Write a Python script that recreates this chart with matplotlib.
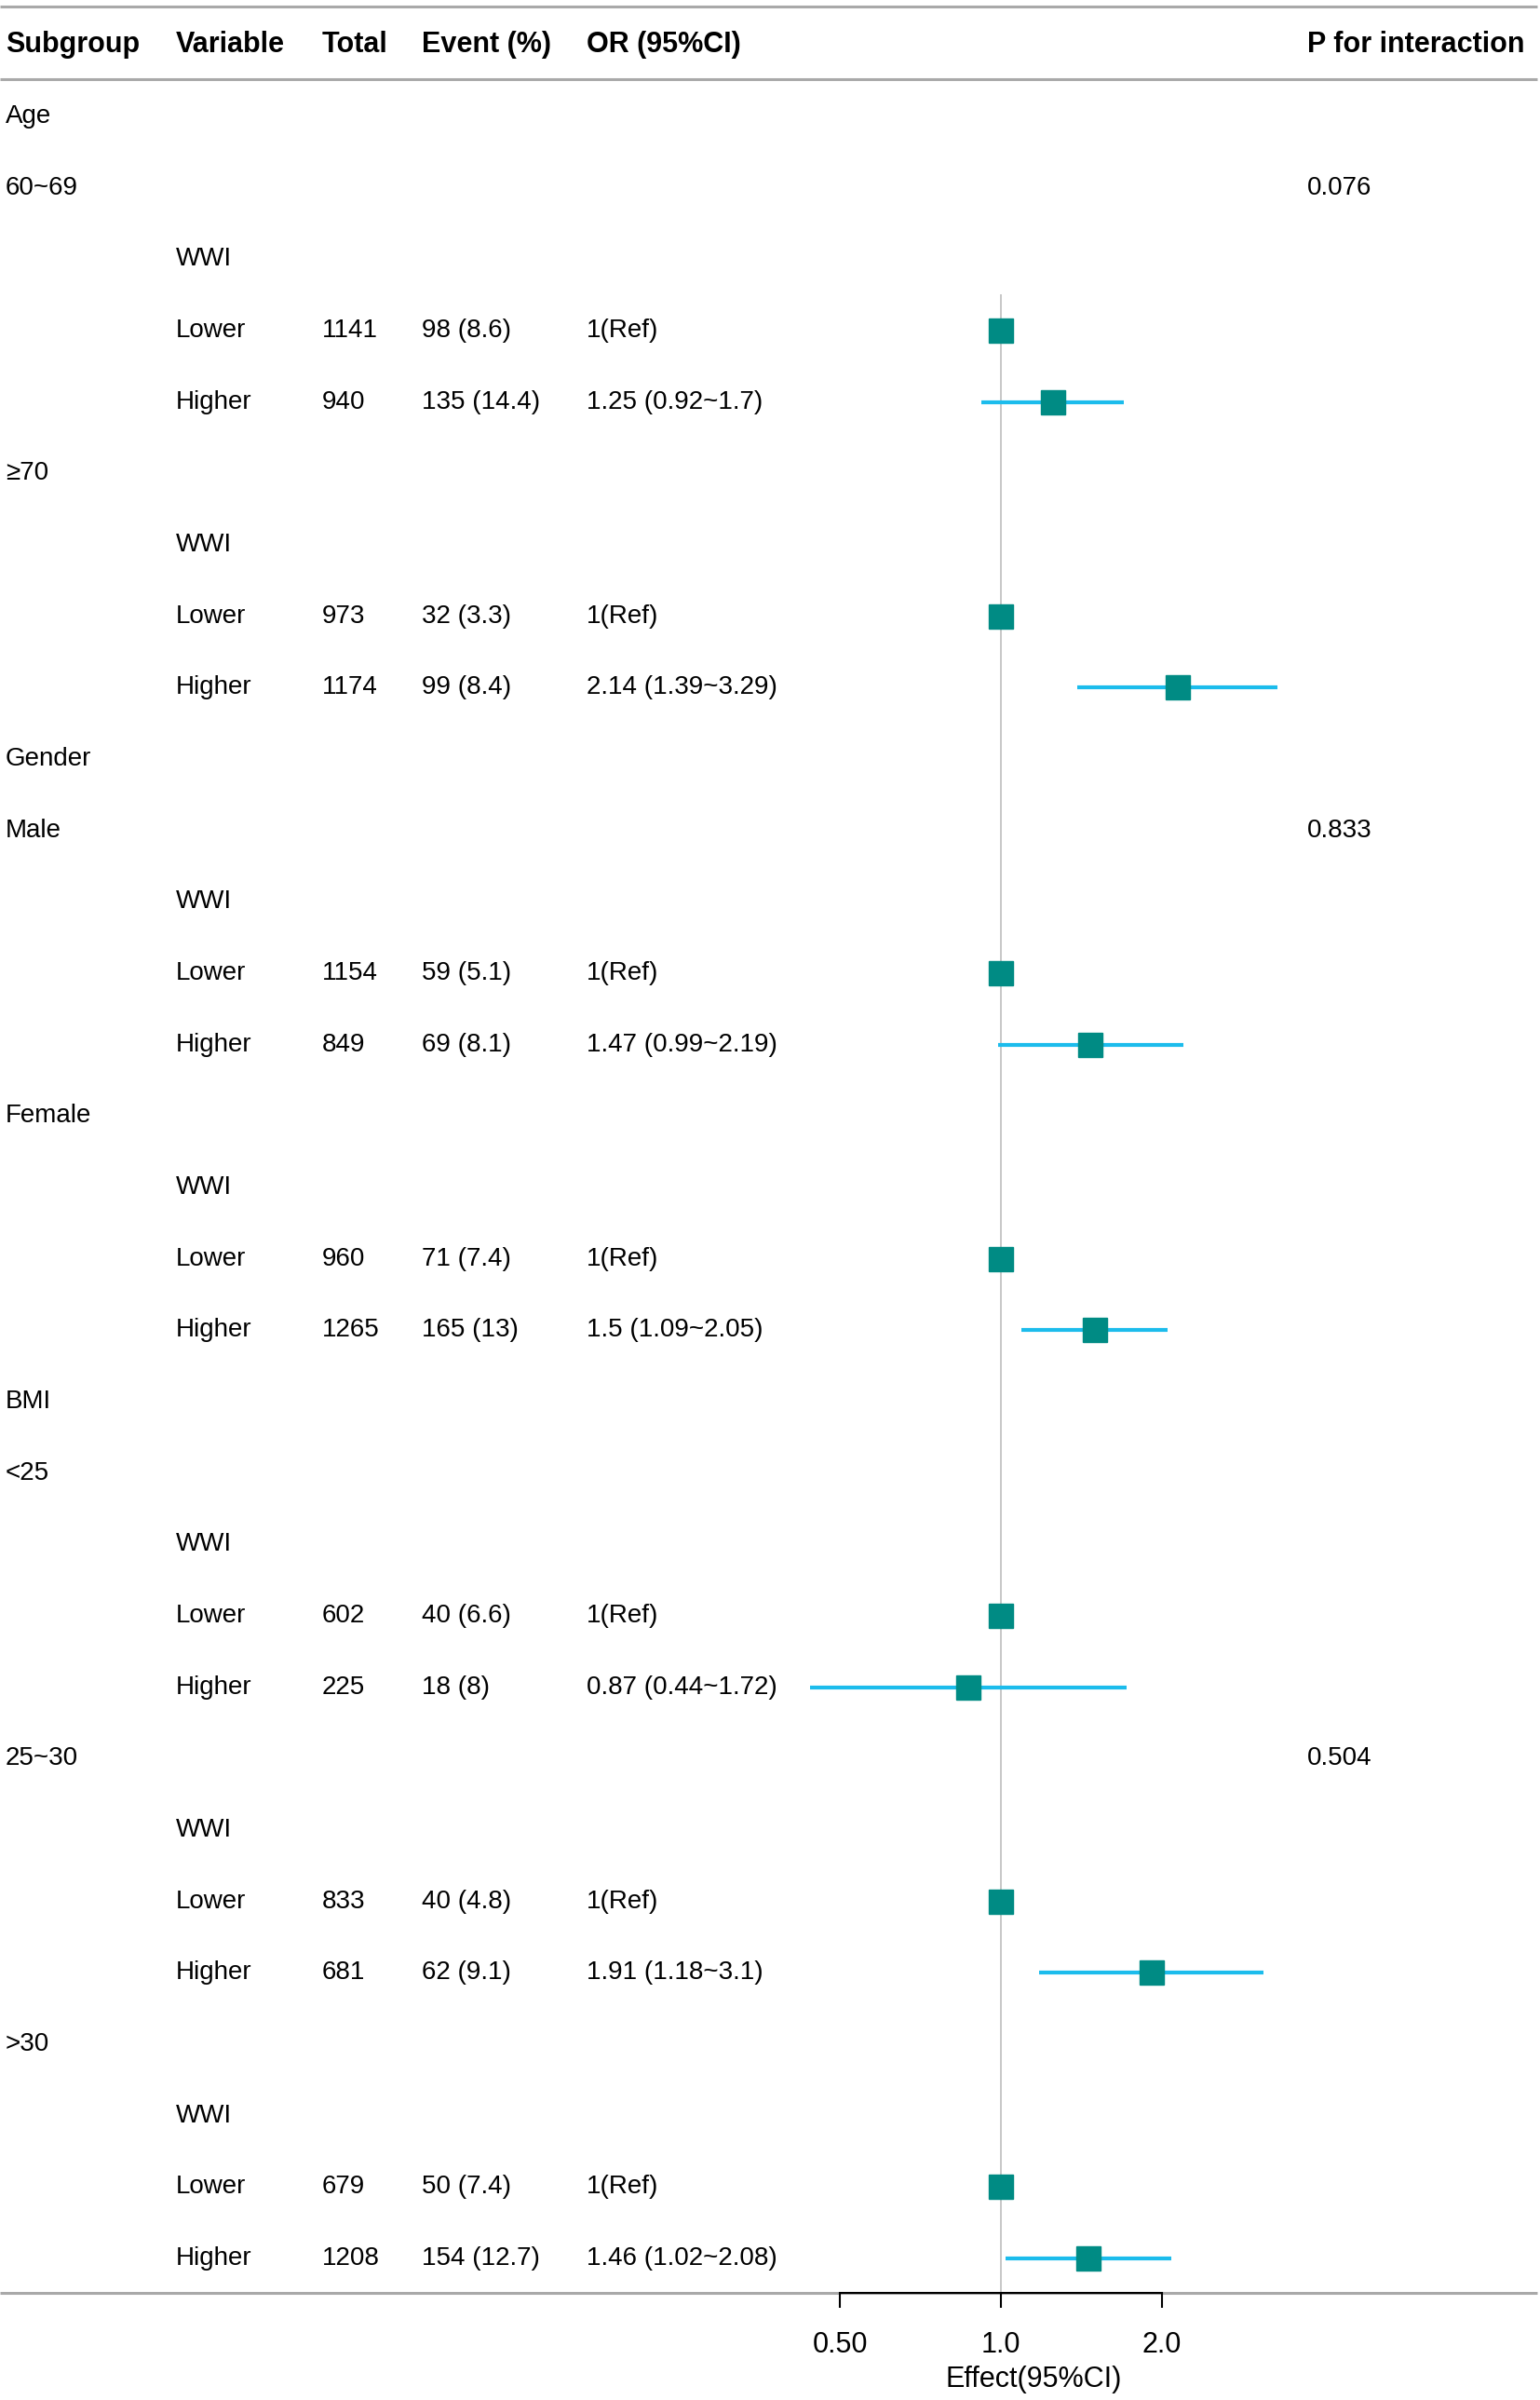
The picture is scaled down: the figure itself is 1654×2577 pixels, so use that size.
import numpy as np
import matplotlib
matplotlib.use("Agg")
from matplotlib import pyplot as plt

plt.rcParams['font.family'] = ['Liberation Sans', 'DejaVu Sans']

# Table contents, one entry per row
subgroup = ["Age", "60~69", "", "", "", "≥70", "", "", "",
            "Gender", "Male", "", "", "", "Female", "", "", "",
            "BMI", "<25", "", "", "", "25~30", "", "", "", ">30", "", "", ""]
variable = ["", "", "WWI", "Lower", "Higher", "", "WWI", "Lower", "Higher",
            "", "", "WWI", "Lower", "Higher", "", "WWI", "Lower", "Higher",
            "", "", "WWI", "Lower", "Higher", "", "WWI", "Lower", "Higher", "", "WWI", "Lower", "Higher"]
total = ["", "", "", "1141", "940", "", "", "973", "1174",
         "", "", "", "1154", "849", "", "", "960", "1265",
         "", "", "", "602", "225", "", "", "833", "681", "", "", "679", "1208"]
event = ["", "", "", "98 (8.6)", "135 (14.4)", "", "", "32 (3.3)", "99 (8.4)",
         "", "", "", "59 (5.1)", "69 (8.1)", "", "", "71 (7.4)", "165 (13)",
         "", "", "", "40 (6.6)", "18 (8)", "", "", "40 (4.8)", "62 (9.1)", "", "", "50 (7.4)", "154 (12.7)"]
or_text = ["", "", "", "1(Ref)", "1.25 (0.92~1.7)", "", "", "1(Ref)", "2.14 (1.39~3.29)",
           "", "", "", "1(Ref)", "1.47 (0.99~2.19)", "", "", "1(Ref)", "1.5 (1.09~2.05)",
           "", "", "", "1(Ref)", "0.87 (0.44~1.72)", "", "", "1(Ref)", "1.91 (1.18~3.1)",
           "", "", "1(Ref)", "1.46 (1.02~2.08)"]
p_int = ["", "0.076", "", "", "", "", "", "", "",
         "", "0.833", "", "", "", "", "", "", "",
         "", "", "", "", "", "0.504", "", "", "", "", "", "", ""]

# Estimates for rows with a box
est_rows = [3, 4, 7, 8, 12, 13, 16, 17, 21, 22, 25, 26, 29, 30]
est = [1, 1.25, 1, 2.14, 1, 1.47, 1, 1.5, 1, 0.87, 1, 1.91, 1, 1.46]
lo = [1, 0.92, 1, 1.39, 1, 0.99, 1, 1.09, 1, 0.44, 1, 1.18, 1, 1.02]
hi = [1, 1.7, 1, 3.29, 1, 2.19, 1, 2.05, 1, 1.72, 1, 3.1, 1, 2.08]

header = ["Subgroup", "Variable", "Total", "Event (%)", "OR (95%CI)", "P for interaction"]

W, H = 1654, 2577
row0, step = 125, 76.67


def row_of(px):
    return (px - row0) / step


fig = plt.figure(figsize=(W / 100, H / 100), dpi=100)
fig.patch.set_facecolor("white")

# Table layer: x in pixels, y in rows
ax_t = fig.add_axes([0, 0, 1, 1])
ax_t.set_xlim(0, W)
ax_t.set_ylim(row_of(H), row_of(0))
ax_t.axis('off')

col_x = [6, 189, 346, 453, 630, 1404]
columns = [subgroup, variable, total, event, or_text, p_int]
for cx, col in zip(col_x, columns):
    for i, s in enumerate(col):
        if s:
            ax_t.text(cx, i, s, fontsize=20, va='center', ha='left', color='black')

for cx, h in zip(col_x, header):
    ax_t.text(cx, row_of(48), h, fontsize=22, fontweight='bold', va='center', ha='left')

line_gray = "#A9A9A9"
for py in [7, 85, 2462]:
    ax_t.plot([0, W - 3], [row_of(py), row_of(py)], color=line_gray, lw=2.2, solid_capstyle='butt')

# Forest layer
left_px, right_px, top_px, bot_px = 820, 1400, 316, 2462
ax_f = fig.add_axes([left_px / W, 1 - bot_px / H, (right_px - left_px) / W, (bot_px - top_px) / H])
ax_f.patch.set_alpha(0)
ax_f.set_xscale('log', base=2)
ppu = 173.0
ax_f.set_xlim(2 ** ((left_px - 1075) / ppu), 2 ** ((right_px - 1075) / ppu))
ax_f.set_ylim(row_of(bot_px), row_of(top_px))

ax_f.axvline(1, color="#BDBDBD", lw=1.2, zorder=1)

for r, e, l, h in zip(est_rows, est, lo, hi):
    if h > l:
        ax_f.plot([l, h], [r, r], color="#1CBCEC", lw=3, solid_capstyle='butt', zorder=2)
    ax_f.plot(e, r, marker='s', ms=19, color="#008B84", mec="#008B84", zorder=3)

for side in ['top', 'right', 'left']:
    ax_f.spines[side].set_visible(False)
ax_f.spines['bottom'].set_bounds(0.5, 2.0)
ax_f.spines['bottom'].set_linewidth(1.5)
ax_f.spines['bottom'].set_zorder(5)
ax_f.set_yticks([])
ax_f.set_xticks([0.5, 1.0, 2.0])
ax_f.set_xticklabels(["0.50", "1.0", "2.0"])
ax_f.xaxis.set_minor_locator(matplotlib.ticker.NullLocator())
ax_f.tick_params(axis='x', length=11.5, width=1.5, labelsize=22, pad=18)
ax_f.set_xlabel("Effect(95%CI)", fontsize=22, labelpad=5)

fig.savefig("out.png", dpi=100, facecolor="white")
